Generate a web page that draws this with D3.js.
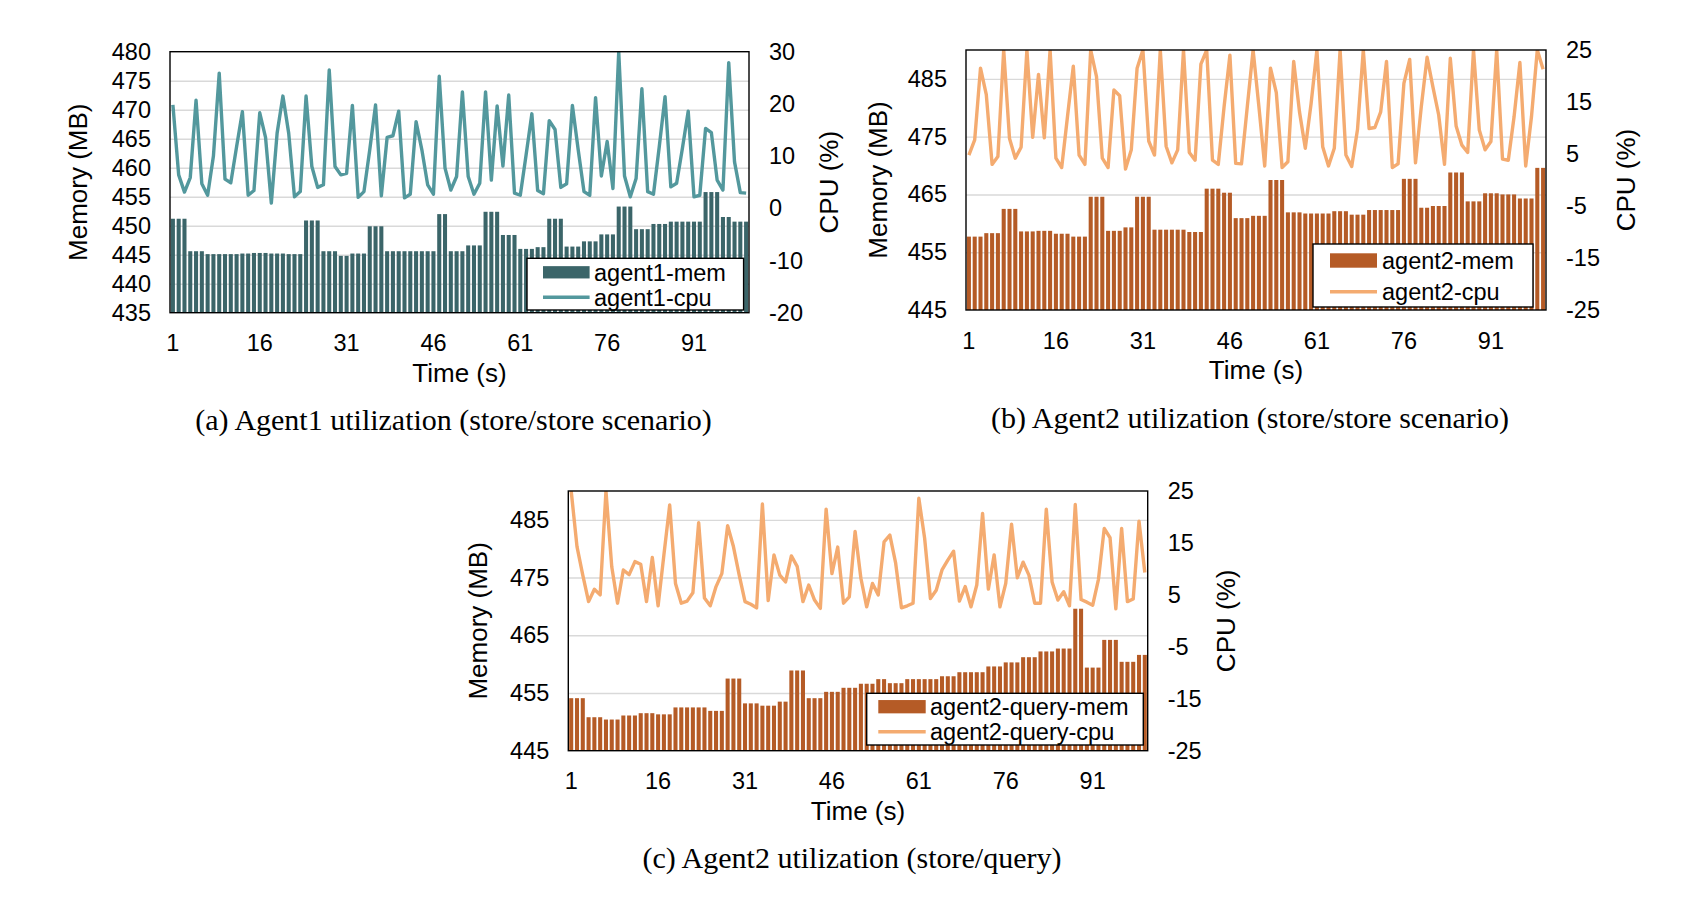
<!DOCTYPE html>
<html lang="en">
<head>
<meta charset="UTF-8">
<title>Agent utilization</title>
<script src="https://d3js.org/d3.v7.min.js"></script>
<style>
    body { margin: 0; background: #fff; }
    svg text { font-family: "Liberation Sans", Arial, sans-serif; fill: #000; }
    svg text.caption { font-family: "Liberation Serif", "Times New Roman", serif; }
</style>
</head>
<body>
<script>
    // time axis (seconds 1..100) and the labelled ticks
    const time = d3.range(1, 101);
    const timeTicks = [1, 16, 31, 46, 61, 76, 91];

    // (a) agent1, store/store
    const memA = [451.2, 451.2, 451.2, 445.6, 445.6, 445.6, 445.1, 445.1, 445.1, 445.1,
        445.1, 445.1, 445.2, 445.2, 445.3, 445.3, 445.3, 445.2, 445.2, 445.2,
        445.1, 445.1, 445.1, 450.9, 450.9, 450.9, 445.6, 445.6, 445.6, 444.8,
        444.8, 445.2, 445.2, 445.2, 449.9, 449.9, 449.9, 445.6, 445.6, 445.6,
        445.6, 445.6, 445.6, 445.6, 445.6, 445.6, 452.0, 452.0, 445.6, 445.6,
        445.6, 446.6, 446.6, 446.6, 452.4, 452.4, 452.4, 448.4, 448.4, 448.4,
        446.0, 446.0, 446.0, 446.3, 446.3, 451.2, 451.2, 451.2, 446.4, 446.4,
        446.4, 447.3, 447.3, 447.3, 448.5, 448.5, 448.5, 453.3, 453.3, 453.3,
        449.4, 449.4, 449.4, 450.3, 450.3, 450.3, 450.7, 450.7, 450.7, 450.7,
        450.7, 450.7, 455.8, 455.8, 455.8, 451.5, 451.5, 450.7, 450.7, 450.7];
    const cpuA = [19.8, 6.4, 3.1, 5.9, 20.7, 4.7, 2.5, 10.0, 25.9, 5.6,
        4.9, 11.8, 18.5, 2.5, 3.4, 18.3, 13.6, 1.0, 14.4, 21.5,
        14.4, 2.2, 3.2, 21.5, 8.0, 4.0, 4.5, 26.5, 8.0, 6.4,
        6.7, 19.7, 2.1, 3.2, 11.2, 19.8, 2.4, 13.6, 13.9, 18.6,
        2.0, 2.7, 16.6, 11.2, 4.5, 2.7, 25.3, 7.7, 3.5, 6.1,
        22.3, 6.1, 2.7, 4.8, 22.3, 5.4, 19.6, 8.1, 21.7, 2.9,
        2.5, 10.2, 18.1, 3.4, 2.8, 16.8, 15.1, 4.0, 4.7, 19.7,
        11.2, 3.2, 2.5, 21.2, 6.2, 12.8, 3.8, 30.0, 6.2, 2.2,
        5.7, 22.9, 3.2, 2.7, 11.8, 21.4, 4.1, 4.8, 11.5, 18.6,
        2.2, 2.5, 15.3, 14.5, 5.4, 3.5, 27.9, 8.9, 3.0, 2.9];

    // (b) agent2, store/store
    const memB = [457.7, 457.7, 457.7, 458.3, 458.3, 458.3, 462.5, 462.5, 462.5, 458.6,
        458.6, 458.6, 458.7, 458.7, 458.7, 458.2, 458.2, 458.2, 457.7, 457.7,
        457.7, 464.6, 464.6, 464.6, 458.7, 458.7, 458.7, 459.3, 459.3, 464.6,
        464.6, 464.6, 458.9, 458.9, 458.9, 458.9, 458.9, 458.9, 458.5, 458.5,
        458.5, 466.0, 466.0, 466.0, 465.3, 465.3, 460.9, 460.9, 460.9, 461.3,
        461.3, 461.3, 467.5, 467.5, 467.5, 461.9, 461.9, 461.9, 461.7, 461.7,
        461.7, 461.7, 461.7, 462.1, 462.1, 462.1, 461.5, 461.5, 461.5, 462.3,
        462.3, 462.3, 462.3, 462.3, 462.3, 467.7, 467.7, 467.7, 462.7, 462.7,
        463.0, 463.0, 463.0, 468.8, 468.8, 468.8, 463.8, 463.8, 463.8, 465.2,
        465.2, 465.2, 465.0, 465.0, 465.0, 464.3, 464.3, 464.3, 469.6, 469.6];
    const cpuB = [4.8, 7.7, 21.5, 16.4, 3.0, 4.5, 25.0, 8.0, 4.2, 6.3,
        25.0, 8.2, 20.3, 8.1, 25.0, 4.2, 2.4, 12.2, 21.9, 4.8,
        3.0, 25.0, 19.9, 4.2, 2.4, 17.3, 16.2, 2.1, 5.8, 21.5,
        25.0, 7.5, 4.8, 25.0, 6.5, 3.3, 5.8, 25.0, 5.3, 3.8,
        22.3, 25.0, 3.8, 3.0, 14.1, 24.0, 3.2, 3.1, 14.1, 25.0,
        14.1, 2.7, 21.5, 16.8, 2.4, 3.5, 22.8, 13.1, 6.1, 14.7,
        25.0, 6.4, 2.7, 6.1, 25.0, 4.8, 2.6, 9.7, 25.0, 9.9,
        10.1, 13.1, 22.8, 2.4, 3.1, 18.6, 23.2, 3.3, 14.1, 23.6,
        17.9, 12.5, 3.0, 23.4, 10.4, 6.7, 5.3, 25.0, 9.6, 5.8,
        7.4, 25.0, 4.0, 3.8, 12.2, 22.6, 2.7, 12.2, 25.0, 21.3];

    // (c) agent2, store/query
    const memC = [454.1, 454.1, 454.1, 450.8, 450.8, 450.8, 450.4, 450.4, 450.4, 451.1,
        451.1, 451.1, 451.5, 451.5, 451.5, 451.3, 451.3, 451.3, 452.5, 452.5,
        452.5, 452.5, 452.5, 452.5, 451.9, 451.9, 451.9, 457.5, 457.5, 457.5,
        453.2, 453.2, 453.2, 452.8, 452.8, 452.8, 453.5, 453.5, 458.9, 458.9,
        458.9, 454.1, 454.1, 454.1, 455.2, 455.2, 455.2, 455.9, 455.9, 455.9,
        456.6, 456.6, 456.6, 457.4, 457.4, 456.7, 456.7, 456.7, 457.4, 457.4,
        457.4, 457.4, 457.4, 457.4, 457.9, 457.9, 457.9, 458.6, 458.6, 458.6,
        458.6, 458.6, 459.6, 459.6, 459.6, 460.3, 460.3, 460.3, 461.2, 461.2,
        461.2, 462.2, 462.2, 462.2, 462.7, 462.7, 462.7, 469.6, 469.6, 459.4,
        459.4, 459.4, 464.2, 464.2, 464.2, 460.4, 460.4, 460.4, 461.6, 461.6];
    const cpuC = [25.0, 14.3, 8.8, 3.7, 6.1, 5.0, 25.0, 10.4, 3.4, 9.8,
        8.9, 11.4, 10.9, 3.7, 12.2, 2.9, 12.7, 22.3, 7.2, 3.4,
        3.8, 5.4, 18.9, 4.4, 2.9, 6.6, 9.1, 18.3, 14.3, 8.8,
        3.7, 3.2, 2.5, 22.5, 3.9, 12.7, 8.8, 7.5, 12.5, 10.5,
        3.7, 6.9, 4.0, 2.4, 21.5, 9.1, 14.2, 3.4, 4.6, 17.2,
        8.2, 2.7, 7.2, 5.0, 15.2, 16.5, 11.1, 2.5, 2.9, 3.4,
        23.6, 15.9, 4.3, 5.9, 9.8, 11.7, 13.4, 3.8, 6.6, 2.7,
        6.9, 20.7, 6.1, 12.7, 2.7, 7.2, 18.6, 8.3, 11.3, 8.8,
        3.4, 3.4, 21.5, 7.5, 4.0, 5.6, 2.9, 22.4, 4.1, 3.6,
        3.0, 8.0, 17.8, 16.0, 2.3, 17.8, 3.7, 4.2, 19.2, 9.3];

    // axis tick labels
    const memTicksA = [435, 440, 445, 450, 455, 460, 465, 470, 475, 480];
    const cpuTicksA = [-20, -10, 0, 10, 20, 30];
    const memTicksB = [445, 455, 465, 475, 485];
    const cpuTicksB = [-25, -15, -5, 5, 15, 25];

    const svg = d3.select("body").append("svg")
        .attr("width", 1692)
        .attr("height", 898);

    function drawPanel(o) {
        const w = o.width, h = o.height;
        const g = svg.append("g").attr("transform", `translate(${o.left},${o.top})`);

        const x = d3.scaleBand().domain(time).range([0, w]).paddingInner(0.3).paddingOuter(0.15);
        const yMem = d3.scaleLinear().domain(o.memDomain).range([h, 0]);
        const yCpu = d3.scaleLinear().domain(o.cpuDomain).range([h, 0]);

        // horizontal gridlines on the memory scale
        g.append("g")
            .call(d3.axisLeft(yMem).tickValues(o.memTicks.filter(t => t > o.memDomain[0] && t < o.memDomain[1]))
                .tickSize(-w).tickFormat(""))
            .call(s => s.select(".domain").remove())
            .selectAll("line")
            .attr("stroke", "#d9d9d9")
            .attr("stroke-width", 1.4);

        g.selectAll("rect.bar").data(o.mem)
            .join("rect")
            .attr("class", "bar")
            .attr("x", (d, i) => x(time[i]))
            .attr("width", x.bandwidth())
            .attr("y", d => yMem(d))
            .attr("height", d => h - yMem(d))
            .attr("fill", o.barColor);

        const clipId = "clip-" + o.id;
        g.append("clipPath").attr("id", clipId)
            .append("rect").attr("width", w).attr("height", h);

        const line = d3.line()
            .x((d, i) => x(time[i]) + x.bandwidth() / 2)
            .y(d => yCpu(d));

        g.append("path").datum(o.cpu)
            .attr("clip-path", `url(#${clipId})`)
            .attr("d", line)
            .attr("fill", "none")
            .attr("stroke", o.lineColor)
            .attr("stroke-width", 3.4)
            .attr("stroke-linejoin", "round");

        g.append("rect")
            .attr("width", w).attr("height", h)
            .attr("fill", "none").attr("stroke", "#000").attr("stroke-width", 1.4);

        // axes
        const axL = g.append("g")
            .call(d3.axisLeft(yMem).tickValues(o.memTicks).tickSize(0).tickPadding(19).tickFormat(d => String(d)));
        const axR = g.append("g").attr("transform", `translate(${w},0)`)
            .call(d3.axisRight(yCpu).tickValues(o.cpuTicks).tickSize(0).tickPadding(20).tickFormat(d => String(d)));
        const axB = g.append("g").attr("transform", `translate(0,${h})`)
            .call(d3.axisBottom(x).tickValues(timeTicks).tickSize(0).tickPadding(22));
        [axL, axR, axB].forEach(a => {
            a.select(".domain").remove();
            a.attr("font-size", 23.5).attr("font-family", null);
        });

        g.append("text")
            .attr("transform", `translate(${o.memTitleX},${h / 2}) rotate(-90)`)
            .attr("text-anchor", "middle").attr("dy", "0.35em")
            .style("font-size", "26px")
            .text("Memory (MB)");
        g.append("text")
            .attr("transform", `translate(${w + o.cpuTitleX},${h / 2}) rotate(-90)`)
            .attr("text-anchor", "middle").attr("dy", "0.35em")
            .style("font-size", "26px")
            .text("CPU (%)");
        g.append("text")
            .attr("x", w / 2).attr("y", h + 60)
            .attr("text-anchor", "middle").attr("dy", "0.35em")
            .style("font-size", "26px")
            .text("Time (s)");
        g.append("text")
            .attr("class", "caption")
            .attr("x", w / 2 - 6).attr("y", h + 107)
            .attr("text-anchor", "middle").attr("dy", "0.35em")
            .style("font-size", "30px")
            .text(o.caption);

        // legend
        const L = o.legend;
        const lg = g.append("g").attr("transform", `translate(${L.x},${L.y})`);
        lg.append("rect").attr("width", L.w).attr("height", L.h)
            .attr("fill", "#fff").attr("stroke", "#000").attr("stroke-width", 1.4);
        lg.append("rect")
            .attr("x", L.sx).attr("y", L.r1 - L.sh / 2)
            .attr("width", L.sw).attr("height", L.sh)
            .attr("fill", o.barColor);
        lg.append("line")
            .attr("x1", L.sx).attr("x2", L.sx + L.sw)
            .attr("y1", L.r2).attr("y2", L.r2)
            .attr("stroke", o.lineColor).attr("stroke-width", 3.4);
        lg.append("text").attr("x", L.tx).attr("y", L.r1).attr("dy", "0.35em")
            .style("font-size", "23.5px").text(o.names[0]);
        lg.append("text").attr("x", L.tx).attr("y", L.r2).attr("dy", "0.35em")
            .style("font-size", "23.5px").text(o.names[1]);
    }

    drawPanel({
        id: "a", left: 170, top: 51.7, width: 579, height: 261,
        mem: memA, cpu: cpuA,
        memDomain: [435, 480], memTicks: memTicksA,
        cpuDomain: [-20, 30], cpuTicks: cpuTicksA,
        barColor: "#3b6569", lineColor: "#53989d",
        memTitleX: -92, cpuTitleX: 80,
        names: ["agent1-mem", "agent1-cpu"],
        caption: "(a) Agent1 utilization (store/store scenario)",
        legend: {x: 357, y: 206.6, w: 216.6, h: 51.7, sx: 16, sw: 46.6, sh: 12.3, tx: 67, r1: 14, r2: 39}
    });

    drawPanel({
        id: "b", left: 966, top: 50, width: 580, height: 260,
        mem: memB, cpu: cpuB,
        memDomain: [445, 490], memTicks: memTicksB,
        cpuDomain: [-25, 25], cpuTicks: cpuTicksB,
        barColor: "#b55b26", lineColor: "#f4ab70",
        memTitleX: -88, cpuTitleX: 80,
        names: ["agent2-mem", "agent2-cpu"],
        caption: "(b) Agent2 utilization (store/store scenario)",
        legend: {x: 347, y: 194, w: 220, h: 63, sx: 17, sw: 47, sh: 14.4, tx: 69, r1: 16.5, r2: 47.7}
    });

    drawPanel({
        id: "c", left: 568.3, top: 491, width: 579.4, height: 259.7,
        mem: memC, cpu: cpuC,
        memDomain: [445, 490], memTicks: memTicksB,
        cpuDomain: [-25, 25], cpuTicks: cpuTicksB,
        barColor: "#b55b26", lineColor: "#f4ab70",
        memTitleX: -90, cpuTitleX: 78,
        names: ["agent2-query-mem", "agent2-query-cpu"],
        caption: "(c) Agent2 utilization (store/query)",
        legend: {x: 298.4, y: 202.3, w: 276.6, h: 51.7, sx: 11.6, sw: 47.4, sh: 13.3, tx: 63.3, r1: 13.4, r2: 38.4}
    });
</script>
</body>
</html>
